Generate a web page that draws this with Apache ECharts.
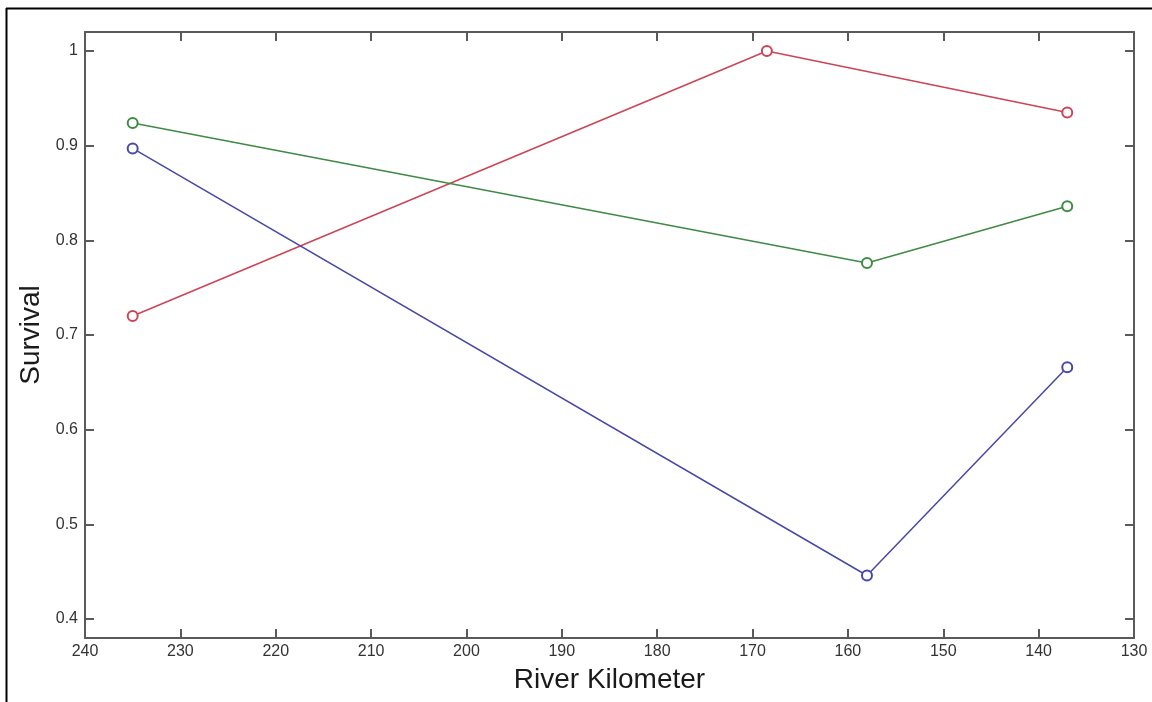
<!DOCTYPE html>
<html>
<head>
<meta charset="utf-8">
<script src="https://cdn.jsdelivr.net/npm/echarts@6/dist/echarts.min.js"></script>
<style>
html,body{margin:0;padding:0;background:#fff;}
#chart{width:1152px;height:702px;}
</style>
</head>
<body>
<div id="chart"></div>
<script>
// Data
const redKm = [235, 168.5, 137];
const redSurvival = [0.72, 1.0, 0.935];
const greenKm = [235, 158, 137];
const greenSurvival = [0.924, 0.776, 0.836];
const blueKm = [235, 158, 137];
const blueSurvival = [0.897, 0.446, 0.666];
const yTicks = [0.4, 0.5, 0.6, 0.7, 0.8, 0.9, 1];
const yTickLabels = ['0.4', '0.5', '0.6', '0.7', '0.8', '0.9', '1'];

const pairs = (xs, ys) => xs.map((x, i) => [x, ys[i]]);

const axisColor = '#5a5a5a';
const font = '"Liberation Sans", Arial, sans-serif';

const chart = echarts.init(document.getElementById('chart'), null, {renderer: 'canvas'});

const gridPos = {left: 85, top: 32, width: 1049, height: 606, containLabel: false, outerBoundsMode: 'none'};

function mkSeries(name, xs, ys, color) {
  return {
    name: name,
    type: 'line',
    data: pairs(xs, ys),
    symbol: 'emptyCircle',
    symbolSize: 10,
    showSymbol: true,
    lineStyle: {color: color, width: 1.5},
    itemStyle: {color: color, borderColor: color, borderWidth: 1.5},
    animation: false,
    z: 3
  };
}

chart.setOption({
  backgroundColor: '#fff',
  animation: false,
  grid: gridPos,
  graphic: [
    {type: 'line', shape: {x1: 6, y1: 8.5, x2: 1152, y2: 8.5}, style: {stroke: '#000', lineWidth: 2}},
    {type: 'line', shape: {x1: 6.5, y1: 8, x2: 6.5, y2: 702}, style: {stroke: '#000', lineWidth: 2}}
  ],
  xAxis: [
    {
      type: 'value', min: 130, max: 240, interval: 10, inverse: true,
      position: 'bottom',
      name: 'River Kilometer', nameLocation: 'middle', nameGap: 28,
      nameTextStyle: {fontFamily: font, fontSize: 28, color: '#1a1a1a'},
      axisLine: {show: true, onZero: false, lineStyle: {color: axisColor, width: 2}},
      axisTick: {show: true, inside: true, length: 9, lineStyle: {color: axisColor, width: 2}},
      axisLabel: {fontFamily: font, fontSize: 16, color: '#333', margin: 6,
        showMinLabel: true, showMaxLabel: true},
      splitLine: {show: false}
    },
    {
      type: 'value', min: 130, max: 240, interval: 10, inverse: true,
      position: 'top',
      axisLine: {show: true, onZero: false, lineStyle: {color: axisColor, width: 2}},
      axisTick: {show: true, inside: true, length: 9, lineStyle: {color: axisColor, width: 2}},
      axisLabel: {show: false},
      splitLine: {show: false}
    }
  ],
  yAxis: [
    {
      type: 'value', min: 0.38, max: 1.02,
      position: 'left',
      name: 'Survival', nameLocation: 'middle', nameGap: 40,
      nameTextStyle: {fontFamily: font, fontSize: 28, color: '#1a1a1a'},
      axisLine: {show: true, onZero: false, lineStyle: {color: axisColor, width: 2}},
      axisTick: {show: true, inside: true, length: 9, lineStyle: {color: axisColor, width: 2},
        customValues: yTicks},
      axisLabel: {fontFamily: font, fontSize: 16, color: '#333', margin: 7,
        customValues: yTicks,
        formatter: v => yTickLabels[yTicks.findIndex(t => Math.abs(t - v) < 1e-6)] || ''},
      splitLine: {show: false}
    },
    {
      type: 'value', min: 0.38, max: 1.02,
      position: 'right',
      axisLine: {show: true, onZero: false, lineStyle: {color: axisColor, width: 2}},
      axisTick: {show: true, inside: true, length: 9, lineStyle: {color: axisColor, width: 2},
        customValues: yTicks},
      axisLabel: {show: false},
      splitLine: {show: false}
    }
  ],
  series: [
    mkSeries('Red', redKm, redSurvival, '#cc4455'),
    mkSeries('Green', greenKm, greenSurvival, '#3f8a45'),
    mkSeries('Blue', blueKm, blueSurvival, '#4848a8')
  ]
});
</script>
</body>
</html>
